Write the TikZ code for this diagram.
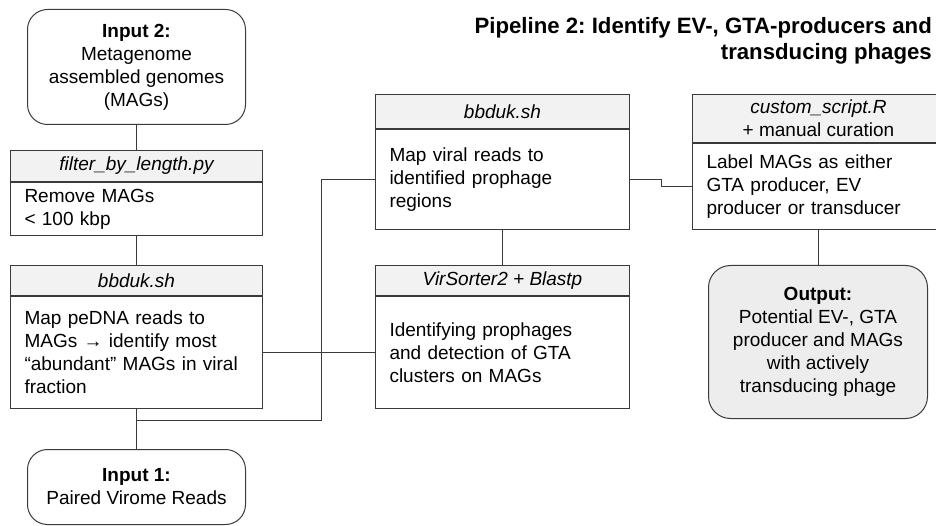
\documentclass[tikz,border=0pt]{standalone}
\usepackage{fontspec}
\setmainfont{Liberation Sans}
\usetikzlibrary{positioning}
\frenchspacing

\definecolor{linegray}{HTML}{3A3A3A}
\definecolor{headgray}{HTML}{F2F2F2}
\definecolor{outgray}{HTML}{EDEDED}
\newcommand{\boxfont}{\fontsize{19}{23}\selectfont}

\tikzset{
  head/.style={draw=linegray, line width=1pt, fill=headgray, anchor=north west,
    inner sep=0pt, align=center, font=\boxfont\itshape},
  body/.style={draw=linegray, line width=1pt, anchor=north west,
    inner xsep=14pt, inner ysep=0pt, align=left, font=\boxfont},
  terminal/.style={draw=linegray, line width=1pt, rounded corners=20pt,
    anchor=north west, inner sep=0pt, align=center, font=\boxfont},
  link/.style={draw=linegray, line width=1pt}
}

\begin{document}
\begin{tikzpicture}[x=1pt, y=-1pt]

    % Fix the page to the reference size
    \useasboundingbox (0,0) rectangle (936,526);
    \clip (0,0) rectangle (936,526);

    % Title
    \node[anchor=north east, inner sep=0pt, align=right,
      font=\fontsize{22.2}{26}\selectfont\bfseries] (title) at (932,17)
      {Pipeline 2: Identify EV-, GTA-producers and\\transducing phages};

    % Input and output boxes
    \node[terminal, minimum width=218pt, minimum height=115pt] (in2) at (27,9)
      {\textbf{Input 2:}\\Metagenome\\assembled genomes\\(MAGs)};
    \node[terminal, minimum width=218pt, minimum height=75pt] (in1) at (27,449)
      {\textbf{Input 1:}\\Paired Virome Reads};
    \node[terminal, fill=outgray, rounded corners=22pt, minimum width=219pt,
      minimum height=153pt] (out) at (708,265)
      {\textbf{Output:}\\Potential EV-, GTA\\producer and MAGs\\with actively\\transducing phage};

    % Left column: filter and first mapping
    \node[head, minimum width=252pt, minimum height=31pt] (fhead) at (10,150)
      {filter\_by\_length.py};
    \node[body, text width=224pt, minimum height=53pt] (fbody) at (fhead.south west)
      {Remove MAGs\\< 100 kbp};
    \node[head, minimum width=252pt, minimum height=30pt] (bhead) at (10,265)
      {bbduk.sh};
    \node[body, text width=224pt, minimum height=112pt] (bbody) at (bhead.south west)
      {Map peDNA reads to\\MAGs → identify most\\“abundant” MAGs in viral\\fraction};

    % Middle column: second mapping and prophage detection
    \node[head, minimum width=254pt, minimum height=34pt] (mhead) at (375,94)
      {bbduk.sh};
    \node[body, text width=226pt, minimum height=100pt] (mbody) at (mhead.south west)
      {Map viral reads to\\identified prophage\\regions};
    \node[head, minimum width=254pt, minimum height=30pt] (vhead) at (375,265)
      {VirSorter2 + Blastp};
    \node[body, text width=226pt, minimum height=112pt] (vbody) at (vhead.south west)
      {Identifying prophages\\and detection of GTA\\clusters on MAGs};

    % Right column: labelling
    \node[head, minimum width=252pt, minimum height=48pt] (lhead) at (692,94)
      {custom\_script.R\\\upshape + manual curation};
    \node[body, text width=224pt, minimum height=86pt] (lbody) at (lhead.south west)
      {Label MAGs as either\\GTA producer, EV\\producer or transducer};

    % Draw the connectors
    \draw[link] (in2.south) -- (fhead.north);
    \draw[link] (fbody.south) -- (bhead.north);
    \draw[link] (bbody.south) -- (in1.north);
    \coordinate (split) at ([yshift=-11pt]bbody.south);
    \draw[link] (split) -| ([xshift=-54pt]mbody.west) -- (mbody.west);
    \draw[link] (bbody.east) -- (vbody.west);
    \draw[link] (mbody.south) -- (vhead.north);
    \draw[link] (mbody.east) -- ++(31,0) |- (lbody.west);
    \draw[link] (lbody.south) -- (lbody.south |- out.north);

\end{tikzpicture}
\end{document}
